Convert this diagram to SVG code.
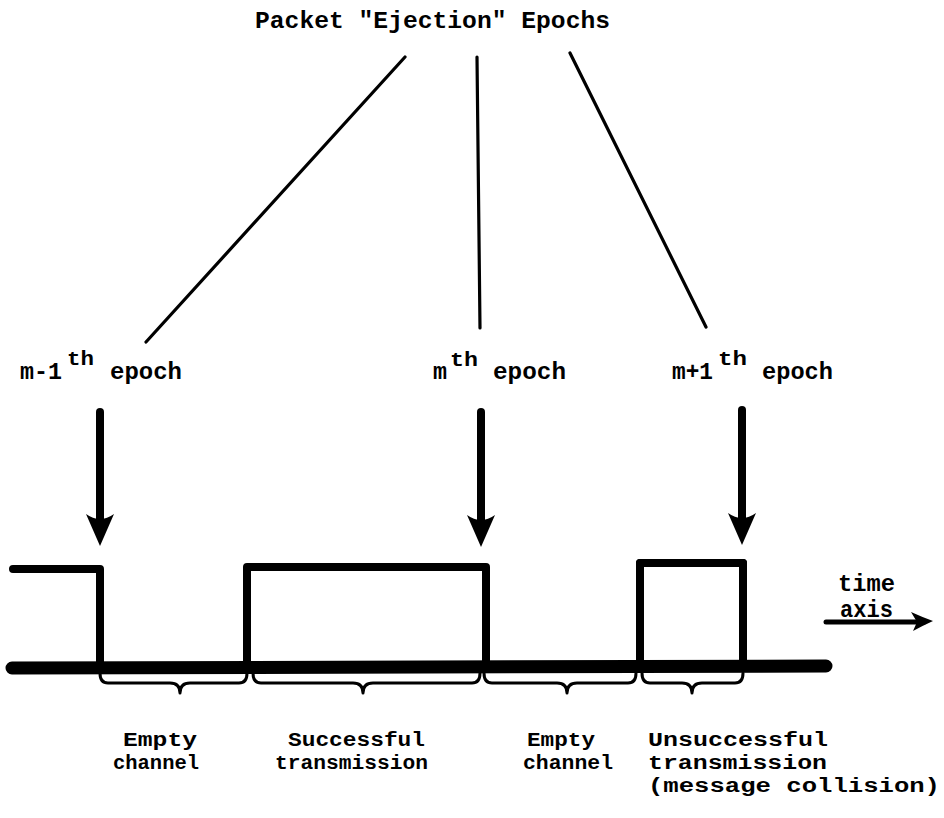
<svg xmlns="http://www.w3.org/2000/svg" width="944" height="818" viewBox="0 0 944 818">
  <style>
    .t { font-family: "Liberation Mono", "DejaVu Sans Mono", monospace; font-weight: bold; fill: #000; }
    .big { font-size: 24px; }
    .lab { font-size: 20px; }
    .sup { font-size: 21px; }
    .ray { stroke: #000; stroke-width: 3.2; fill: none; stroke-linecap: round; }
    .shaft { stroke: #000; stroke-width: 8; fill: none; stroke-linecap: round; }
    .sig { stroke: #000; stroke-width: 8; fill: none; stroke-linejoin: round; stroke-linecap: round; }
    .brace { stroke: #000; stroke-width: 3; fill: none; stroke-linecap: round; stroke-linejoin: round; }
  </style>
  <defs>
    <path id="head" d="M-14,-4 Q0,6 14,-4 L0,28 Z" fill="#000"/>
  </defs>

  <rect width="944" height="818" fill="#fff"/>

  <!-- heading -->
  <g id="title">
    <text class="t big" x="255" y="28" textLength="355" lengthAdjust="spacingAndGlyphs">Packet "Ejection" Epochs</text>
  </g>

  <!-- epoch labels -->
  <g id="epoch-prev">
    <text class="t big" x="20" y="379" textLength="42" lengthAdjust="spacingAndGlyphs">m-1</text>
    <text class="t sup" x="67" y="365" textLength="27" lengthAdjust="spacingAndGlyphs">th</text>
    <text class="t big" x="110" y="379" textLength="72" lengthAdjust="spacingAndGlyphs">epoch</text>
  </g>
  <g id="epoch-m">
    <text class="t big" x="433" y="379" textLength="14" lengthAdjust="spacingAndGlyphs">m</text>
    <text class="t sup" x="450" y="366" textLength="28" lengthAdjust="spacingAndGlyphs">th</text>
    <text class="t big" x="493" y="379" textLength="73" lengthAdjust="spacingAndGlyphs">epoch</text>
  </g>
  <g id="epoch-next">
    <text class="t big" x="672" y="379" textLength="41" lengthAdjust="spacingAndGlyphs">m+1</text>
    <text class="t sup" x="718" y="365" textLength="29" lengthAdjust="spacingAndGlyphs">th</text>
    <text class="t big" x="762" y="379" textLength="71" lengthAdjust="spacingAndGlyphs">epoch</text>
  </g>

  <!-- connectors: rays from heading, and epoch arrows -->
  <g id="connectors">
    <line class="ray" x1="405" y1="57" x2="146" y2="342"/>
    <line class="ray" x1="477" y1="57" x2="480" y2="328"/>
    <line class="ray" x1="570" y1="53" x2="706" y2="327"/>

    <line class="shaft" x1="100" y1="412" x2="100" y2="522"/>
    <use href="#head" x="100" y="518"/>
    <line class="shaft" x1="481" y1="412" x2="481" y2="522"/>
    <use href="#head" x="481" y="519"/>
    <line class="shaft" x1="742" y1="410" x2="742" y2="520"/>
    <use href="#head" x="742" y="517"/>
  </g>

  <!-- channel signal -->
  <g id="signal">
    <path class="sig" d="M13,569 H100 V667"/>
    <path class="sig" d="M247,667 V567 H486 V667"/>
    <path class="sig" d="M640,667 V563 H743 V667"/>
    <path class="sig" d="M640,563 H743" stroke-width="11"/>
    <line x1="12" y1="668" x2="826" y2="666" stroke="#000" stroke-width="13" stroke-linecap="round"/>
  </g>

  <!-- interval braces -->
  <g id="braces">
    <path class="brace" d="M100,673 Q100,683 108,683 H170 Q180,683 180,693 Q180,683 190,683 H239 Q247,683 247,673"/>
    <path class="brace" d="M253,673 Q253,683 261,683 H353 Q363,683 363,693 Q363,683 373,683 H472 Q480,683 480,673"/>
    <path class="brace" d="M484,673 Q484,683 492,683 H557 Q567,683 567,693 Q567,683 577,683 H628 Q636,683 636,673"/>
    <path class="brace" d="M642,673 Q642,683 650,683 H682 Q692,683 692,693 Q692,683 702,683 H735 Q743,683 743,673"/>
  </g>

  <!-- interval labels -->
  <g id="label-empty-1">
    <text class="t lab" x="123" y="746" textLength="74" lengthAdjust="spacingAndGlyphs">Empty</text>
    <text class="t lab" x="113" y="769" textLength="86" lengthAdjust="spacingAndGlyphs">channel</text>
  </g>
  <g id="label-success">
    <text class="t lab" x="288" y="746" textLength="137" lengthAdjust="spacingAndGlyphs">Successful</text>
    <text class="t lab" x="275" y="769" textLength="153" lengthAdjust="spacingAndGlyphs">transmission</text>
  </g>
  <g id="label-empty-2">
    <text class="t lab" x="527" y="746" textLength="68" lengthAdjust="spacingAndGlyphs">Empty</text>
    <text class="t lab" x="523" y="769" textLength="90" lengthAdjust="spacingAndGlyphs">channel</text>
  </g>
  <g id="label-collision">
    <text class="t lab" x="648" y="746" textLength="180" lengthAdjust="spacingAndGlyphs">Unsuccessful</text>
    <text class="t lab" x="648" y="769" textLength="179" lengthAdjust="spacingAndGlyphs">transmission</text>
    <text class="t lab" x="648" y="792" textLength="292" lengthAdjust="spacingAndGlyphs">(message collision)</text>
  </g>

  <!-- time axis -->
  <g id="time-axis">
    <text class="t big" x="838" y="591" textLength="57" lengthAdjust="spacingAndGlyphs">time</text>
    <text class="t big" x="840" y="617" textLength="53" lengthAdjust="spacingAndGlyphs">axis</text>
    <line x1="826" y1="622" x2="924" y2="622" stroke="#000" stroke-width="5" stroke-linecap="round"/>
    <path d="M911,612 Q922,617 933,621 Q922,626 913,631 L917,622 Z" fill="#000"/>
  </g>
</svg>
